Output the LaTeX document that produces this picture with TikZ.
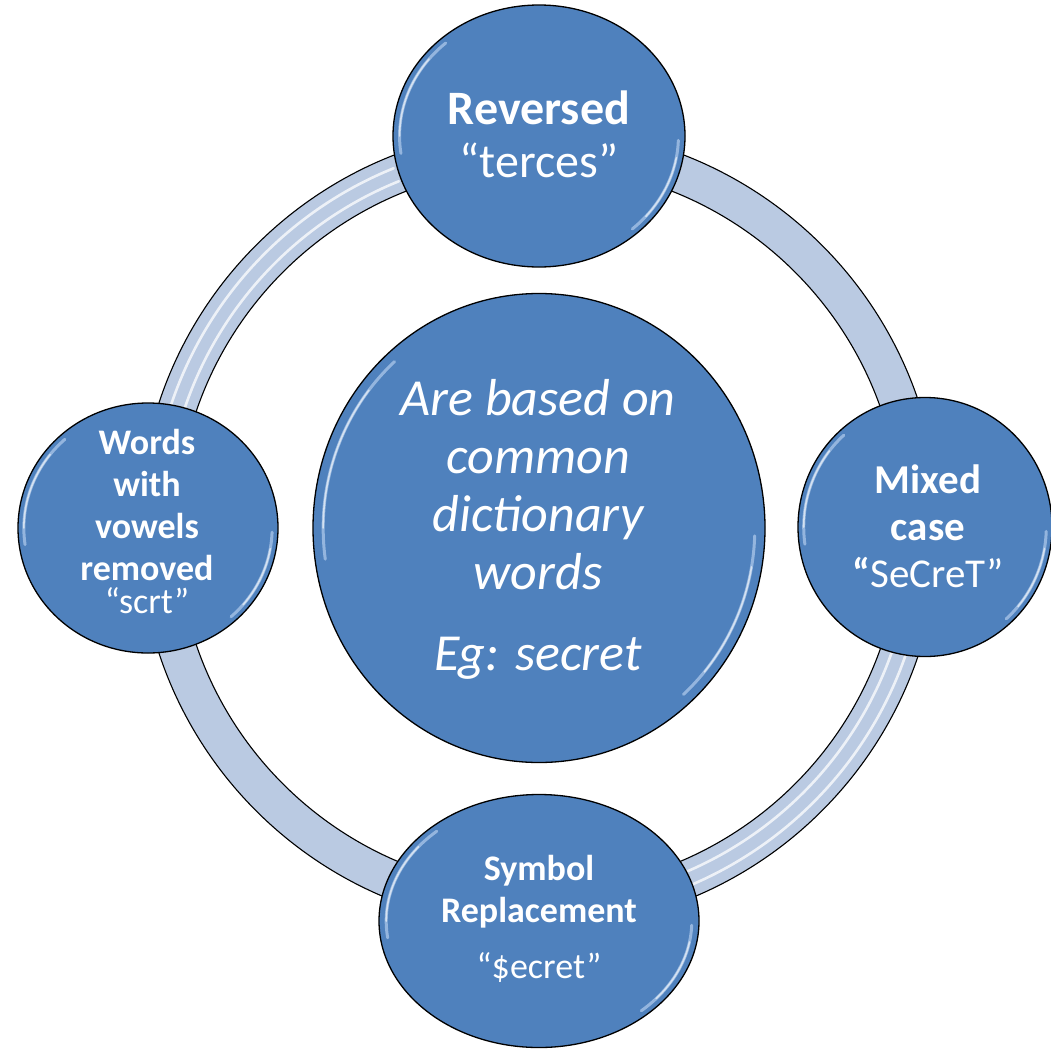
\documentclass[tikz,border=0pt]{standalone}
\usepackage{fontspec}
\setmainfont{Carlito}
\usetikzlibrary{shapes.geometric}
\definecolor{bubblefill}{RGB}{79,129,189}
\definecolor{ringfill}{RGB}{186,202,226}
\definecolor{glosscol}{RGB}{205,225,250}
\tikzset{
  bubble/.style={ellipse, draw=black, line width=1.3pt, fill=bubblefill, inner sep=0pt},
  ringline/.style={draw=black, line width=1.1pt},
  stripe/.style={draw=white, line width=2.6pt, opacity=0.75, line cap=round},
  glossA/.style={draw=glosscol, line width=3pt, opacity=0.55, line cap=round},
  glossB/.style={draw=white, line width=1.6pt, opacity=0.6, line cap=round},
  txt/.style={text=white, align=center, anchor=base, inner sep=0pt}
}
\newcommand\glossarcs[4]{%
  \draw[glossA] (#1,#2) ++(172:{0.955*#3} and {0.955*#4}) arc[start angle=172,end angle=228,x radius={0.955*#3},y radius={0.955*#4}];
  \draw[glossB] (#1,#2) ++(180:{0.955*#3} and {0.955*#4}) arc[start angle=180,end angle=218,x radius={0.955*#3},y radius={0.955*#4}];
  \draw[glossA] (#1,#2) ++(2:{0.955*#3} and {0.955*#4}) arc[start angle=2,end angle=48,x radius={0.955*#3},y radius={0.955*#4}];
  \draw[glossB] (#1,#2) ++(10:{0.955*#3} and {0.955*#4}) arc[start angle=10,end angle=40,x radius={0.955*#3},y radius={0.955*#4}];
}
\begin{document}
\begin{tikzpicture}[x=1pt, y=-1pt]
\useasboundingbox (0,0) rectangle (1051,1049);
\coordinate (ringc) at (539,528);
% ring
\fill[ringfill, even odd rule] (ringc) circle[radius=400] (ringc) circle[radius=362];
\draw[stripe] (ringc) ++(198:374) arc[start angle=198,end angle=248,radius=374];
\draw[stripe] (ringc) ++(198:388) arc[start angle=198,end angle=248,radius=388];
\draw[stripe] (ringc) ++(18:374) arc[start angle=18,end angle=72,radius=374];
\draw[stripe] (ringc) ++(18:388) arc[start angle=18,end angle=72,radius=388];
\draw[ringline] (ringc) circle[radius=400] (ringc) circle[radius=362];
% bubbles
\node[bubble, minimum width=452pt, minimum height=469pt] (center) at (539,528) {};
\glossarcs{539}{528}{226}{234.5}
\node[bubble, minimum width=292pt, minimum height=262pt] (top) at (539,136) {};
\glossarcs{539}{136}{146}{131}
\node[bubble, minimum width=260pt, minimum height=250pt] (left) at (148,528) {};
\glossarcs{148}{528}{130}{125}
\node[bubble, minimum width=254pt, minimum height=259pt] (right) at (925,527) {};
\glossarcs{925}{527}{127}{129.5}
\node[bubble, minimum width=320pt, minimum height=253pt] (bottom) at (539,921) {};
\glossarcs{539}{921}{160}{126.5}
% texts (base anchor = baseline of last line)
\node[txt, font=\fontsize{48}{53}\selectfont] (toptxt) at (539,177) {\textbf{Reversed}\\“terces”};
\node[txt, font=\itshape\fontsize{52}{58}\selectfont] (centertxt) at (538,670) {Are based on\\common\\dictionary\\words\\[23pt]Eg: secret};
\node[txt, font=\fontsize{36}{42}\selectfont] (lefttxt) at (147,613) {\textbf{Words}\\\textbf{with}\\\textbf{vowels}\\\textbf{removed}\\[-9pt]“scrt”};
\node[txt, font=\fontsize{41}{47}\selectfont] (righttxt) at (928,587) {\textbf{Mixed}\\\textbf{case}\\{\bfseries “}SeCreT”};
\node[txt, font=\fontsize{36}{42}\selectfont] (bottomtxt) at (539,978) {\textbf{Symbol}\\\textbf{Replacement}\\[14pt]“\$ecret”};
\end{tikzpicture}
\end{document}
